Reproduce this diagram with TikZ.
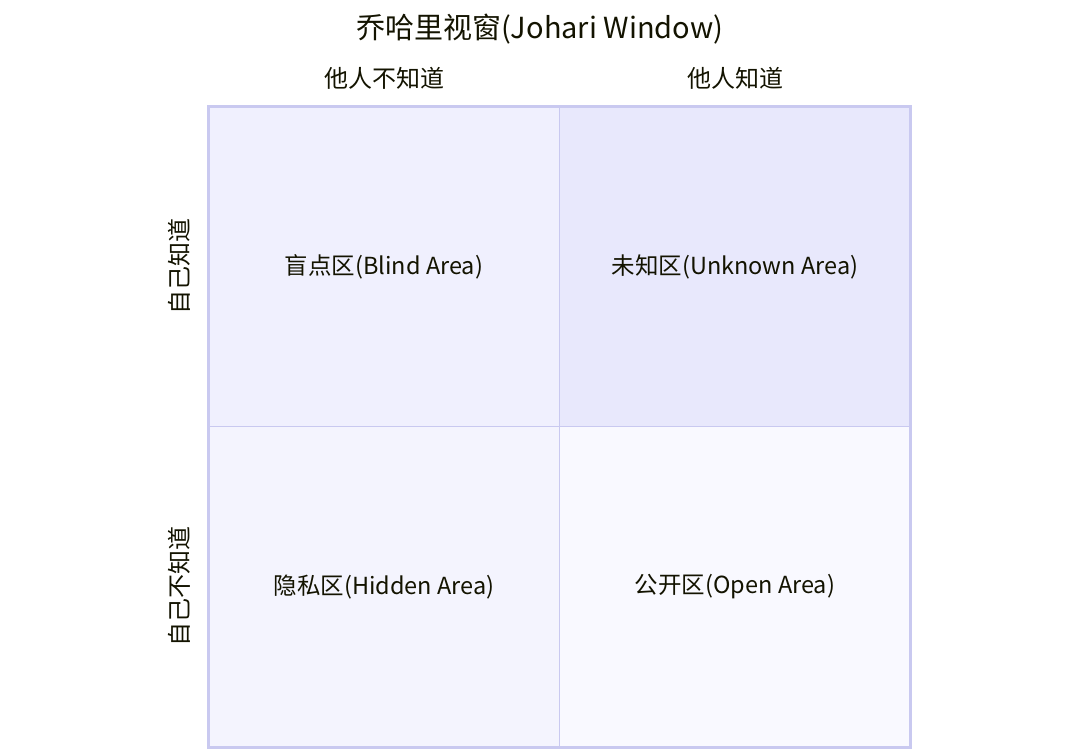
\documentclass[tikz,border=0pt]{standalone}
\usepackage{fontspec}
\setmainfont{Noto Sans CJK SC}
\usepackage{tikz}
\definecolor{txt}{HTML}{131300}
\definecolor{edge}{HTML}{C9C9F0}
\definecolor{blindfill}{HTML}{F0F0FE}
\definecolor{unknownfill}{HTML}{E8E8FC}
\definecolor{hiddenfill}{HTML}{F4F4FE}
\definecolor{openfill}{HTML}{F9F9FF}
\tikzstyle{quadrant} = [rectangle, minimum width=351pt, minimum height=320.5pt, inner sep=0pt, outer sep=0pt, draw=edge, line width=1pt, text=txt, font=\fontsize{23.5}{25}\selectfont]
\tikzstyle{axis} = [text=txt, inner sep=0pt, font=\fontsize{24}{26}\selectfont]
\tikzstyle{heading} = [text=txt, inner sep=0pt, font=\fontsize{29}{31}\selectfont]

\begin{document}
\begin{tikzpicture}[x=1pt, y=-1pt]
  \useasboundingbox (0,0) rectangle (1080,755);
  \node (title) [heading] at (540,29) {乔哈里视窗(Johari Window)};
  \node (col1) [axis] at (384,78) {他人不知道};
  \node (col2) [axis] at (735,78) {他人知道};
  \node (row1) [axis, rotate=90] at (179,266) {自己知道};
  \node (row2) [axis, rotate=90] at (179,586) {自己不知道};

  \node (blind) [quadrant, fill=blindfill] at (384,266.5) {盲点区(Blind Area)};
  \node (unknown) [quadrant, fill=unknownfill] at (735,266.5) {未知区(Unknown Area)};
  \node (hidden) [quadrant, fill=hiddenfill] at (384,587) {隐私区(Hidden Area)};
  \node (open) [quadrant, fill=openfill] at (735,587) {公开区(Open Area)};

  \draw [edge, line width=3pt] (blind.north west) rectangle (open.south east);
\end{tikzpicture}
\end{document}
